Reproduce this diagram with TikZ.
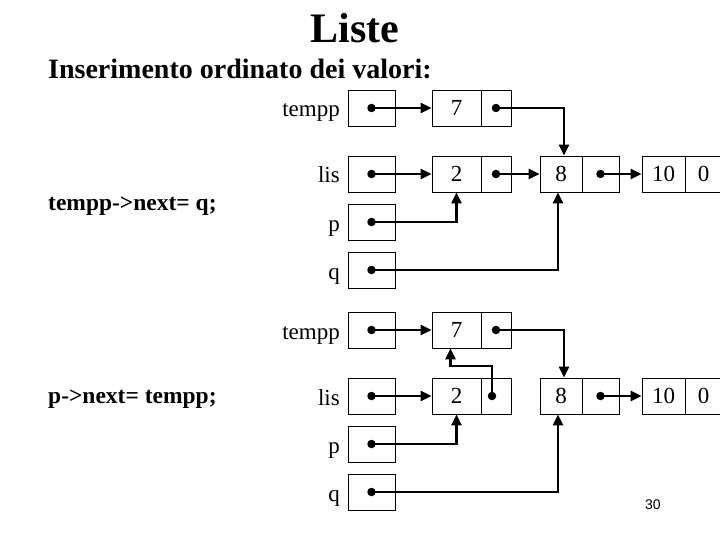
\documentclass[tikz,border=0pt]{standalone}
\usepackage{fontspec}
\setmainfont{Liberation Serif}
\newfontfamily\pagefont{Liberation Sans}
\usetikzlibrary{arrows.meta}
\begin{document}
\begin{tikzpicture}[x=1pt,y=-1pt,
  ptr/.style={draw, line width=0.9pt, minimum width=47pt, minimum height=36pt, inner sep=0pt},
  cell/.style={draw, line width=0.9pt, minimum height=36pt, inner sep=0pt, font=\fontsize{23}{23}\selectfont},
  lbl/.style={anchor=base east, inner sep=0pt, font=\fontsize{23}{23}\selectfont},
  dotmark/.style={circle, fill, inner sep=0pt, minimum size=8.5pt},
  link/.style={line width=2.4pt, -{Triangle[length=11pt,width=10pt]}},
  code/.style={anchor=base west, inner sep=0pt, font=\fontsize{23.5}{23.5}\selectfont\bfseries}
]
\useasboundingbox (0,0) rectangle (720,540);

% titles
\node[anchor=base, inner sep=0pt, font=\fontsize{42}{42}\selectfont\bfseries] (title) at (355,43) {Liste};
\node[anchor=base west, inner sep=0pt, font=\fontsize{28}{28}\selectfont\bfseries] (sub) at (48,79) {Inserimento ordinato dei valori:};
\node[code] (c1) at (48,211) {tempp->next= q;};
\node[code] (c2) at (48,403) {p->next= tempp;};
\node[anchor=base west, inner sep=0pt, font=\pagefont\fontsize{14}{14}\selectfont] (pg) at (645,509) {30};

% ===== top section =====
\node[ptr] (ta) at (371.5,108) {};
\node[ptr] (la) at (371.5,174) {};
\node[ptr] (pa) at (371.5,222) {};
\node[ptr] (qa) at (371.5,270) {};
\node[lbl] at (340,117) {tempp};
\node[lbl] at (340,183) {lis};
\node[lbl] at (340,231) {p};
\node[lbl] at (340,279) {q};

\node[cell, minimum width=49pt] (n7a) at (456.5,108) {7};
\node[cell, minimum width=30pt] (n7an) at (496,108) {};
\node[cell, minimum width=49pt] (n2a) at (456.5,174) {2};
\node[cell, minimum width=30pt] (n2an) at (496,174) {};
\node[cell, minimum width=42pt] (n8a) at (561,174) {8};
\node[cell, minimum width=37pt] (n8an) at (600.5,174) {};
\node[cell, minimum width=43pt] (n10a) at (663.5,174) {10};
\node[cell, minimum width=37pt] (n10an) at (703.5,174) {0};

\node[dotmark] (dta) at (ta.center) {};
\node[dotmark] (dla) at (la.center) {};
\node[dotmark] (dpa) at (pa.center) {};
\node[dotmark] (dqa) at (qa.center) {};
\node[dotmark] (d7a) at (n7an.center) {};
\node[dotmark] (d2a) at (n2an.center) {};
\node[dotmark] (d8a) at (n8an.center) {};

\draw[link] (dta.center) -- (n7a.west);
\draw[link] (dla.center) -- (n2a.west);
\draw[link] (d2a.center) -- (n8a.west);
\draw[link] (d8a.center) -- (n10a.west);
\draw[link] (d7a.center) -| ([xshift=3pt]n8a.north);
\draw[link] (dpa.center) -| (n2a.south);
\draw[link] (dqa.center) -| ([xshift=-3pt]n8a.south);

% ===== bottom section =====
\node[ptr] (tb) at (371.5,330) {};
\node[ptr] (lb) at (371.5,396) {};
\node[ptr] (pb) at (371.5,444) {};
\node[ptr] (qb) at (371.5,492) {};
\node[lbl] at (340,339) {tempp};
\node[lbl] at (340,405) {lis};
\node[lbl] at (340,453) {p};
\node[lbl] at (340,501) {q};

\node[cell, minimum width=49pt] (n7b) at (456.5,330) {7};
\node[cell, minimum width=30pt] (n7bn) at (496,330) {};
\node[cell, minimum width=49pt] (n2b) at (456.5,396) {2};
\node[cell, minimum width=30pt] (n2bn) at (496,396) {};
\node[cell, minimum width=42pt] (n8b) at (561,396) {8};
\node[cell, minimum width=37pt] (n8bn) at (600.5,396) {};
\node[cell, minimum width=43pt] (n10b) at (663.5,396) {10};
\node[cell, minimum width=37pt] (n10bn) at (703.5,396) {0};

\node[dotmark] (dtb) at (tb.center) {};
\node[dotmark] (dlb) at (lb.center) {};
\node[dotmark] (dpb) at (pb.center) {};
\node[dotmark] (dqb) at (qb.center) {};
\node[dotmark] (d7b) at (n7bn.center) {};
\node[dotmark] (d2b) at ([xshift=-4pt]n2bn.center) {};
\node[dotmark] (d8b) at (n8bn.center) {};
\coordinate (bend) at ([yshift=30pt]d2b.center);

\draw[link] (dtb.center) -- (n7b.west);
\draw[link] (dlb.center) -- (n2b.west);
\draw[link] (d8b.center) -- (n10b.west);
\draw[link] (d7b.center) -| ([xshift=3pt]n8b.north);
\draw[link] (d2b.center) -- (bend) -| ([xshift=-6pt]n7b.south);
\draw[link] (dpb.center) -| (n2b.south);
\draw[link] (dqb.center) -| ([xshift=-3pt]n8b.south);
\end{tikzpicture}
\end{document}
